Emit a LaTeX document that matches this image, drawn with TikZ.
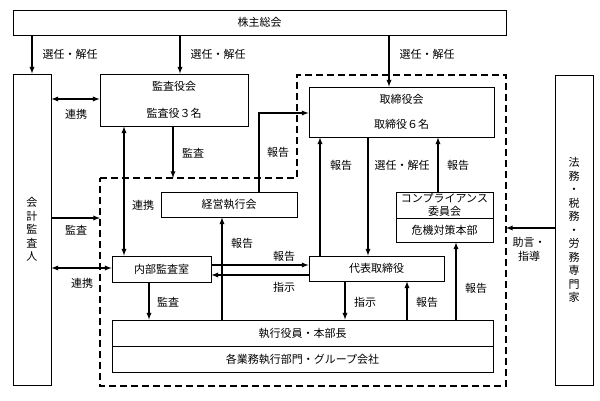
\documentclass[tikz,border=0pt]{standalone}
\usepackage{fontspec}
\newfontfamily\jpfont{Noto Sans CJK JP}
\newcommand{\jpsize}{\jpfont\fontsize{11}{13.5}\selectfont}
\usetikzlibrary{positioning,calc,arrows}

\tikzset{
	box/.style={draw, line width=0.9pt, font=\jpsize, inner sep=0pt, align=center},
	lbl/.style={font=\jpsize, inner sep=0pt},
	arr/.style={-latex, line width=1.3pt},
	darr/.style={latex-latex, line width=1.3pt},
	bnd/.style={line width=1.8pt, dash pattern=on 7pt off 4pt}
}

\begin{document}
\begin{tikzpicture}[x=1pt,y=-1pt]
			\useasboundingbox (0,0) rectangle (600,400);
			
			% dashed area
			\draw[bnd] (100,178) -- (297,178) -- (297,75) -- (506,75) -- (506,386) -- (100,386) -- cycle;
			\coordinate (bndTop) at (173,178);
			\coordinate (bndLeft) at (100,218);
			\coordinate (bndRight) at (506,228);
			
			% boxes
			\node[box, minimum width=493, minimum height=25] (soukai) at (259.5,22.5) {株主総会};
			\node[box, minimum width=38, minimum height=311] (kaikei) at (32,229.5) {会\\計\\監\\査\\人};
			\node[box, minimum width=148, minimum height=52] (kansayaku) at (174,100) {監査役会\\[13pt]監査役３名};
			\node[box, minimum width=185, minimum height=50] (torishimari) at (401.5,112) {取締役会\\[11.5pt]取締役６名};
			\node[box, minimum width=136, minimum height=25] (keiei) at (229,204.5) {経営執行会};
			\node[box, minimum width=99, minimum height=26] (naibu) at (161.5,269) {内部監査室};
			\node[box, minimum width=135, minimum height=25] (daihyo) at (376.5,268.5) {代表取締役};
			\node[box, minimum width=97, minimum height=26] (comp) at (444.5,205) {コンプライアンス\\[-0.5pt]委員会};
			\node[box, minimum width=97, minimum height=24] (kiki) at (444.5,230) {危機対策本部};
			\node[box, minimum width=381, minimum height=26] (shikkou) at (302.5,333) {執行役員・本部長};
			\node[box, minimum width=381, minimum height=26] (gyomu) at (302.5,359) {各業務執行部門・グループ会社};
			\node[box, minimum width=38, minimum height=310] (senmon) at (574,230) {法\\務\\・\\税\\務\\・\\労\\務\\専\\門\\家};
			
			% connectors
			\draw[arr] (soukai.south -| kaikei.north) -- (kaikei.north);
			\draw[arr] (soukai.south -| 180,0) -- (kansayaku.north -| 180,0);
			\draw[arr] (soukai.south -| 389,0) -- (torishimari.north -| 389,0);
			\draw[darr] (kaikei.east |- 0,99) -- (kansayaku.west |- 0,99);
			\draw[darr] (kansayaku.south -| 124,0) -- (naibu.north -| 124,0);
			\draw[arr] (kansayaku.south -| bndTop) -- (bndTop);
			\draw[arr] (keiei.north -| 259,0) |- (torishimari.west |- 0,113);
			\draw[arr] (kaikei.east |- bndLeft) -- (bndLeft);
			\draw[darr] (kaikei.east |- 0,268) -- (naibu.west |- 0,268);
			\draw[arr] (naibu.east |- 0,265) -- (daihyo.west |- 0,265);
			\draw[arr] (daihyo.west |- 0,275) -- (naibu.east |- 0,275);
			\draw[arr] (shikkou.north -| 222,0) -- (keiei.south -| 222,0);
			\draw[arr] (daihyo.north -| 320,0) -- (torishimari.south -| 320,0);
			\draw[arr] (torishimari.south -| 368,0) -- (daihyo.north -| 368,0);
			\draw[arr] (comp.north -| 438,0) -- (torishimari.south -| 438,0);
			\draw[arr] (shikkou.north -| 456,0) -- (kiki.south -| 456,0);
			\draw[arr] (senmon.west |- bndRight) -- (bndRight);
			\draw[arr] (naibu.south -| 149,0) -- (shikkou.north -| 149,0);
			\draw[arr] (daihyo.south -| 345,0) -- (shikkou.north -| 345,0);
			\draw[arr] (shikkou.north -| 407,0) -- (daihyo.south -| 407,0);
			
			% labels
			\node[lbl] (l-sen1) at (70,54) {選任・解任};
			\node[lbl] (l-sen2) at (218,54) {選任・解任};
			\node[lbl] (l-sen3) at (427,54) {選任・解任};
			\node[lbl] (l-ren1) at (76,114) {連携};
			\node[lbl] (l-kan1) at (193,153) {監査};
			\node[lbl] (l-hou1) at (278,152) {報告};
			\node[lbl] (l-ren2) at (143,205) {連携};
			\node[lbl] (l-kan2) at (76,230) {監査};
			\node[lbl] (l-hou2) at (242,243) {報告};
			\node[lbl] (l-hou3) at (284,256) {報告};
			\node[lbl] (l-shi1) at (284,287) {指示};
			\node[lbl] (l-ren3) at (82,283) {連携};
			\node[lbl] (l-kan3) at (168,302) {監査};
			\node[lbl] (l-shi2) at (365,302) {指示};
			\node[lbl] (l-hou4) at (427,302) {報告};
			\node[lbl] (l-hou5) at (476,288) {報告};
			\node[lbl] (l-hou6) at (341,165) {報告};
			\node[lbl] (l-sen4) at (402,165) {選任・解任};
			\node[lbl] (l-hou7) at (458,165) {報告};
			\node[lbl, align=center] (l-jogen) at (529,249.5) {助言・\\指導};
			\end{tikzpicture}
\end{document}
